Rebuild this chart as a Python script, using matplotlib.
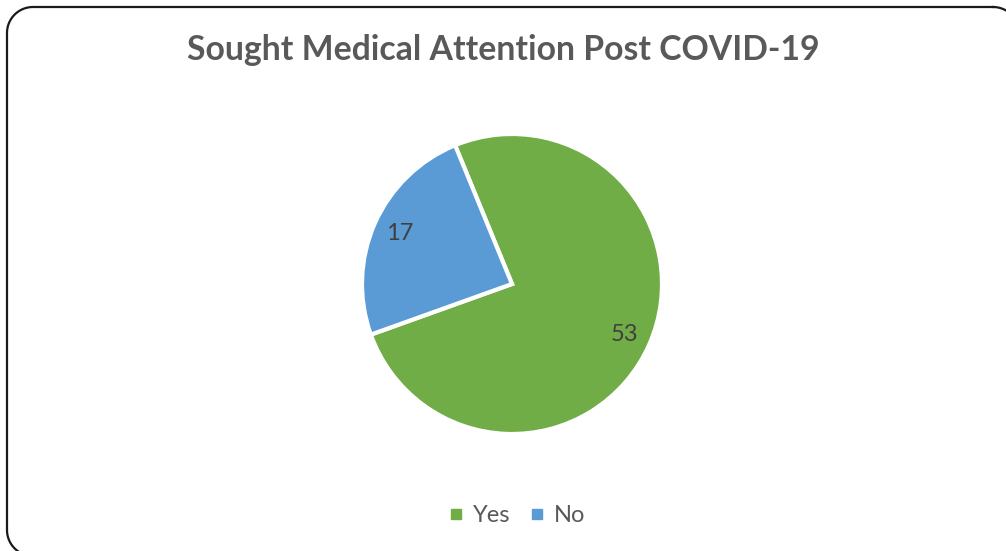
import numpy as np
import matplotlib.pyplot as plt
from matplotlib.lines import Line2D

# survey counts
categories = ['Yes', 'No']
counts = [53, 17]
colors = ['#70AD47', '#5B9BD5']

W, H = 1006, 551
fig = plt.figure(figsize=(W / 100, H / 100), dpi=100)
fig.patch.set_facecolor('white')

# background axes in pixel units (y down) for the rounded border
bg = fig.add_axes([0, 0, 1, 1])
bg.set_xlim(0, W)
bg.set_ylim(H, 0)
bg.axis('off')


def rounded_rect(x0, y0, x1, y1, rad, n=30):
    xs, ys = [], []
    corners = [(x1 - rad, y0 + rad, -90, 0), (x1 - rad, y1 - rad, 0, 90),
               (x0 + rad, y1 - rad, 90, 180), (x0 + rad, y0 + rad, 180, 270)]
    for ccx, ccy, a0, a1 in corners:
        t = np.radians(np.linspace(a0, a1, n))
        xs.extend(ccx + rad * np.cos(t))
        ys.extend(ccy + rad * np.sin(t))
    xs.append(xs[0])
    ys.append(ys[0])
    return xs, ys


bx, by = rounded_rect(7, 7, 1019, 556, 26)
bg.plot(bx, by, color='#1a1a1a', lw=1.6, clip_on=False, solid_joinstyle='round')

# pie centred at (512, 284) px with radius 150 px
cx, cy, r = 512, 284, 150
ax = fig.add_axes([(cx - r) / W, (H - cy - r) / H, 2 * r / W, 2 * r / H])
wedges, texts, autotexts = ax.pie(
    counts, colors=colors, startangle=112.3, counterclock=False,
    autopct=lambda p: '{:.0f}'.format(p * sum(counts) / 100),
    pctdistance=0.82, radius=1,
    wedgeprops=dict(edgecolor='white', linewidth=3),
    textprops=dict(color='#404040', fontsize=17, family='Lato'))
ax.set_xlim(-1, 1)
ax.set_ylim(-1, 1)

fig.text(0.5, 1 - 50 / H, 'Sought Medical Attention Post COVID-19',
         ha='center', va='center', fontsize=24.3, fontweight='bold',
         color='#595959', family='Lato')

handles = [Line2D([], [], marker='s', linestyle='none', markersize=7.5,
                  markerfacecolor=c, markeredgecolor=c) for c in colors]
leg = fig.legend(handles, categories, loc='center', bbox_to_anchor=(0.515, 1 - 516 / H),
                 ncol=2, frameon=False, handlelength=0.45,
                 handletextpad=0.5, columnspacing=0.9, prop=dict(family='Lato', size=17))
for t in leg.get_texts():
    t.set_color('#595959')

fig.savefig('out.png', dpi=100)
